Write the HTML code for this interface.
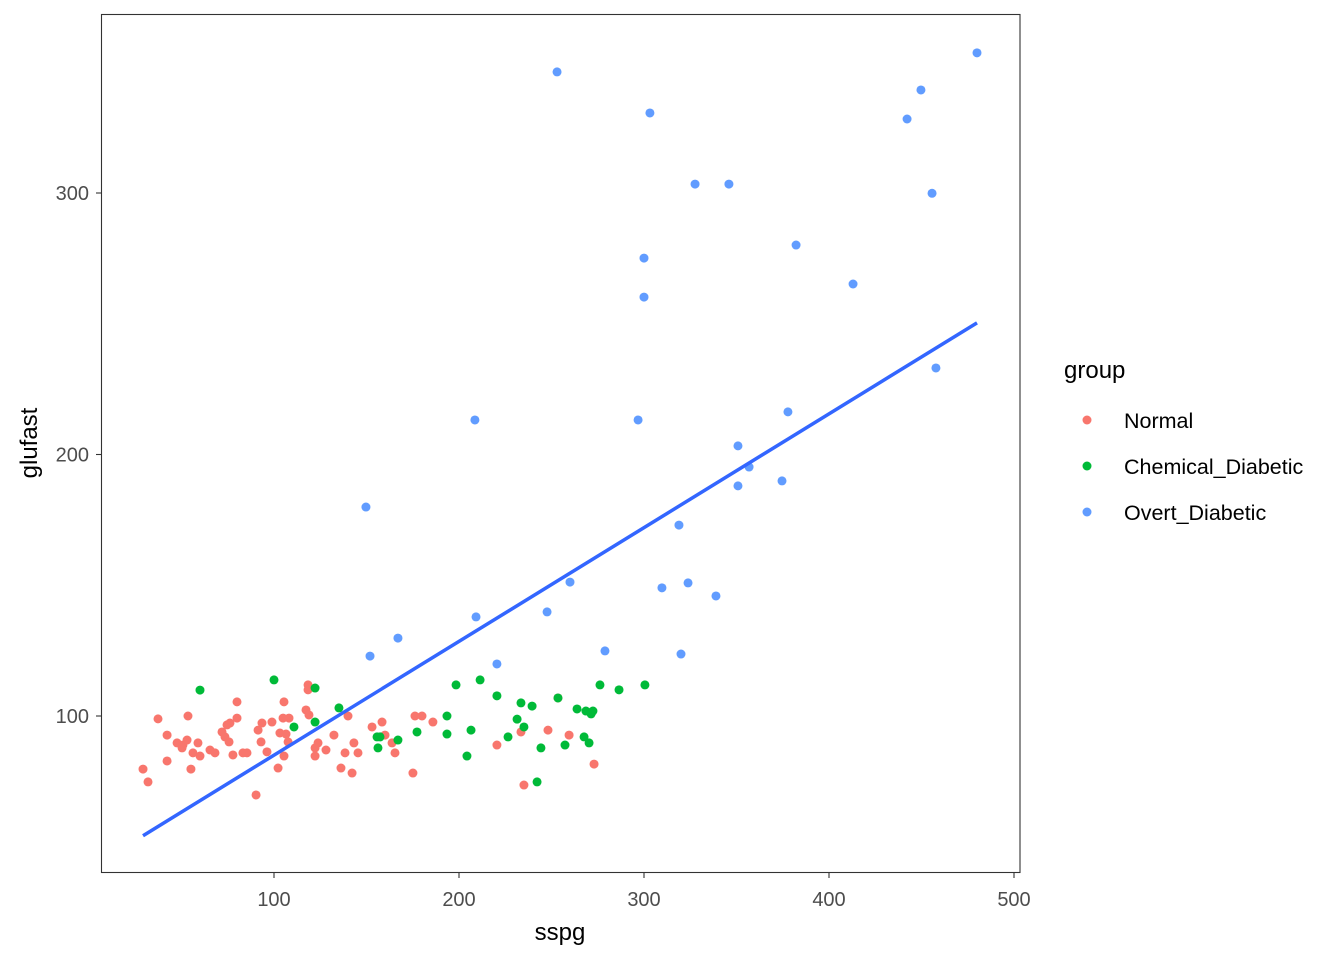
<!DOCTYPE html>
<html><head><meta charset="utf-8"><style>
html,body{margin:0;padding:0;background:#fff;}
svg{display:block;font-family:"Liberation Sans",Arial,sans-serif;}
</style></head><body>
<svg id="chart" width="1344" height="960" viewBox="0 0 1344 960" xmlns="http://www.w3.org/2000/svg">
<rect x="0" y="0" width="1344" height="960" fill="#fff"/>
<g id="marks"></g>
<rect x="101.5" y="14.5" width="918.5" height="858" fill="none" stroke="#333" stroke-width="1.1"/>
<g id="axes"></g>
<text x="560" y="940" font-size="24" text-anchor="middle" fill="#000">sspg</text>
<text transform="translate(37,443) rotate(-90)" font-size="24" text-anchor="middle" fill="#000">glufast</text>
<g>
<text x="1064" y="378" font-size="24" fill="#000">group</text>
<g><circle cx="1087" cy="420" r="4.5" fill="#F8766D"/><text x="1124" y="428" font-size="21.5" fill="#000">Normal</text></g>
<g><circle cx="1087" cy="466" r="4.5" fill="#00BA38"/><text x="1124" y="474" font-size="21.5" fill="#000">Chemical_Diabetic</text></g>
<g><circle cx="1087" cy="512" r="4.5" fill="#619CFF"/><text x="1124" y="520" font-size="21.5" fill="#000">Overt_Diabetic</text></g>
</g>
</svg>
<script>
const normalX=[37.3,53.5,42.2,80,29.2,31.9,42.2,55.1,47.6,50.8,50.3,53,58.9,56.2,60,65.4,68.1,71.9,74.6,76.2,80,73.5,75.7,77.8,83.2,85.4,90.3,91.4,93.5,98.9,93,96.2,102.2,105.4,104.9,108.1,103.2,106.5,107.6,105.4,118.4,118.4,117.3,118.9,122.2,123.8,122.2,128.1,132.4,136.2,142.2,138.4,143.2,145.4,140,153,158.4,160,165.4,163.8,175.1,176.2,180,185.9,233.5,220.5,248.1,259.5,273,235.1,253.5];
const normalY=[98.9,100,92.7,105.4,79.7,74.8,82.8,79.7,89.7,88.9,87.8,90.8,89.7,85.9,84.7,87,85.9,93.9,96.6,97.3,99.2,92,90.1,85.1,85.9,85.9,69.8,94.6,97.3,97.7,90.1,86.3,80.1,105.4,99.2,99.2,93.5,93.1,90.1,84.7,111.9,110,102.3,100.4,87.8,89.7,84.7,87,92.7,80.1,78.2,85.9,89.7,85.9,100,95.8,97.7,92.7,85.9,89.7,78.2,100,100,97.7,93.9,88.9,94.6,92.7,81.6,73.6,106.9];
const chemX=[60,100,122.2,110.8,122.2,135.1,155.7,157.3,156.2,167,177.3,193.5,193.5,198.4,211.4,220.5,233.5,239.5,253.5,206.5,204.3,226.5,231.4,235.1,244.3,257.3,242.2,263.8,268.6,272.4,271.4,267.6,270.3,276.2,286.5,300.5];
const chemY=[109.9,113.8,110.7,95.8,97.7,103.1,92,92,87.8,90.8,93.9,100,93.1,111.9,113.8,107.7,105,103.8,106.9,94.6,84.7,92,98.8,95.8,87.8,88.9,74.8,102.7,101.9,101.9,100.8,92,89.7,111.9,110,111.9];
const overtX=[253,303.2,327.6,345.9,300,300,296.8,208.6,149.7,151.9,167,209.2,220.5,247.6,260,278.9,309.7,323.8,320,318.9,338.9,350.8,350.8,356.8,374.6,377.8,382.2,413,442.2,449.7,455.7,457.8,480];
const overtY=[346.3,330.6,303.4,303.4,275.1,260.2,213.2,213.2,179.9,122.9,129.8,137.9,119.9,139.8,151.2,124.9,149,150.9,123.7,173,145.9,203.3,188,195.2,189.9,216.3,280.1,265.2,328.3,339.4,299.9,233.1,353.6];
const xTicks=[100,200,300,400,500];
const yTicks=[100,200,300];
const groups=[["normal",normalX,normalY,"#F8766D"],["chemical-diabetic",chemX,chemY,"#00BA38"],["overt-diabetic",overtX,overtY,"#619CFF"]];
const NS="http://www.w3.org/2000/svg";
function sx(v){return 89+v*1.85;}
function sy(v){return 977.5-v*2.615;}
const marks=document.getElementById('marks');
const axes=document.getElementById('axes');
let allX=[],allY=[];
groups.forEach(g=>{g[1].forEach((x,i)=>{
  const c=document.createElementNS(NS,'circle');
  c.setAttribute('cx',sx(x));c.setAttribute('cy',sy(g[2][i]));c.setAttribute('r',4.5);c.setAttribute('fill',g[3]);
  
  
  marks.appendChild(c);allX.push(x);allY.push(g[2][i]);
});});
const n=allX.length;const mx=allX.reduce((a,b)=>a+b,0)/n;const my=allY.reduce((a,b)=>a+b,0)/n;
let sxy=0,sxx=0;for(let i=0;i<n;i++){sxy+=(allX[i]-mx)*(allY[i]-my);sxx+=(allX[i]-mx)**2;}
const b=sxy/sxx,a=my-b*mx;const x0=Math.min(...allX),x1=Math.max(...allX);
const ln=document.createElementNS(NS,'line');
ln.setAttribute('x1',sx(x0));ln.setAttribute('y1',sy(a+b*x0));ln.setAttribute('x2',sx(x1));ln.setAttribute('y2',sy(a+b*x1));
ln.setAttribute('stroke','#3366FF');ln.setAttribute('stroke-width',3.5);


marks.appendChild(ln);
xTicks.forEach(t=>{
  const l=document.createElementNS(NS,'line');
  l.setAttribute('x1',sx(t));l.setAttribute('x2',sx(t));l.setAttribute('y1',872.5);l.setAttribute('y2',878);l.setAttribute('stroke','#333');l.setAttribute('stroke-width',1.1);
  
  
  axes.appendChild(l);
  const tx=document.createElementNS(NS,'text');
  tx.setAttribute('x',sx(t));tx.setAttribute('y',906);tx.setAttribute('text-anchor','middle');tx.setAttribute('font-size',20);tx.setAttribute('fill','#4d4d4d');tx.textContent=t;
  
  
  axes.appendChild(tx);
});
yTicks.forEach(t=>{
  const l=document.createElementNS(NS,'line');
  l.setAttribute('x1',96);l.setAttribute('x2',101.5);l.setAttribute('y1',sy(t));l.setAttribute('y2',sy(t));l.setAttribute('stroke','#333');l.setAttribute('stroke-width',1.1);
  
  
  axes.appendChild(l);
  const tx=document.createElementNS(NS,'text');
  tx.setAttribute('x',89);tx.setAttribute('y',sy(t)+7);tx.setAttribute('text-anchor','end');tx.setAttribute('font-size',20);tx.setAttribute('fill','#4d4d4d');tx.textContent=t;
  
  
  axes.appendChild(tx);
});
</script>
</body></html>
